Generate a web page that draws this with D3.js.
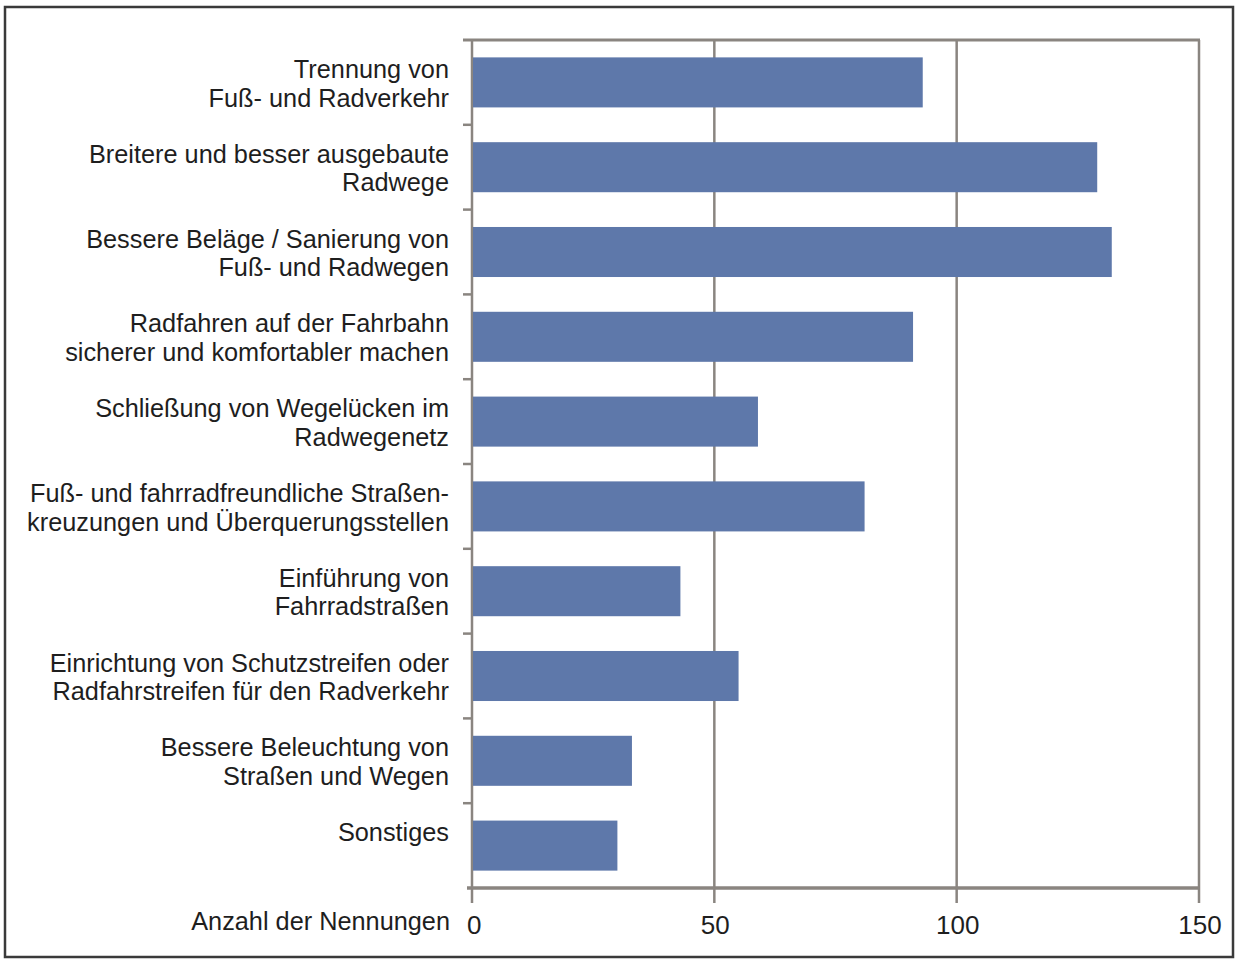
<!DOCTYPE html>
<html>
<head>
<meta charset="utf-8">
<script src="https://cdn.jsdelivr.net/npm/d3@7"></script>
<style>
  body { margin: 0; background: #fff; }
  svg { display: block; }
  .cat-label { font-family: "Liberation Sans", Arial, sans-serif; font-size: 25.3px; fill: #1e1e1e; }
  .tick-label { font-family: "Liberation Sans", Arial, sans-serif; font-size: 26px; fill: #1e1e1e; }
</style>
</head>
<body>
<div id="chart"></div>
<script>
// Kategorien (zweizeilige Beschriftungen)
const categories = [
    ["Trennung von", "Fuß- und Radverkehr"],
    ["Breitere und besser ausgebaute", "Radwege"],
    ["Bessere Beläge / Sanierung von", "Fuß- und Radwegen"],
    ["Radfahren auf der Fahrbahn", "sicherer und komfortabler machen"],
    ["Schließung von Wegelücken im", "Radwegenetz"],
    ["Fuß- und fahrradfreundliche Straßen-", "kreuzungen und Überquerungsstellen"],
    ["Einführung von", "Fahrradstraßen"],
    ["Einrichtung von Schutzstreifen oder", "Radfahrstreifen für den Radverkehr"],
    ["Bessere Beleuchtung von", "Straßen und Wegen"],
    ["Sonstiges"]
];
const values = [93, 129, 132, 91, 59, 81, 43, 55, 33, 30];
const xTicks = [0, 50, 100, 150];
const axisTitle = "Anzahl der Nennungen";

const width = 1235, height = 960;
const plot = { left: 472, right: 1199, top: 40, bottom: 888 };

const svg = d3.select('#chart').append('svg')
    .attr('width', width)
    .attr('height', height);

// outer frame
svg.append('rect')
    .attr('x', 5).attr('y', 7)
    .attr('width', 1228).attr('height', 950)
    .attr('fill', 'none')
    .attr('stroke', '#3a3a3a')
    .attr('stroke-width', 2.5);

const x = d3.scaleLinear().domain([0, 150]).range([plot.left, plot.right]);
const y = d3.scaleBand()
    .domain(d3.range(categories.length))
    .range([plot.top, plot.bottom])
    .paddingInner(0.41)
    .paddingOuter(0.205);

const gridColor = '#8a8580';

// vertical gridlines
svg.append('g')
    .selectAll('line')
    .data(xTicks.slice(1))
    .enter().append('line')
    .attr('x1', d => x(d)).attr('x2', d => x(d))
    .attr('y1', plot.top).attr('y2', plot.bottom + 15)
    .attr('stroke', gridColor)
    .attr('stroke-width', 2.5);

// top border line
svg.append('line')
    .attr('x1', plot.left - 9).attr('x2', plot.right + 1)
    .attr('y1', plot.top).attr('y2', plot.top)
    .attr('stroke', gridColor).attr('stroke-width', 3);

// left axis with category ticks
svg.append('line')
    .attr('x1', plot.left).attr('x2', plot.left)
    .attr('y1', plot.top).attr('y2', plot.bottom + 15)
    .attr('stroke', gridColor).attr('stroke-width', 2.5);

const step = y.step();
svg.append('g')
    .selectAll('line')
    .data(d3.range(1, categories.length))
    .enter().append('line')
    .attr('x1', plot.left - 9).attr('x2', plot.left)
    .attr('y1', d => plot.top + d * step)
    .attr('y2', d => plot.top + d * step)
    .attr('stroke', gridColor).attr('stroke-width', 2.5);

// bars
svg.append('g')
    .selectAll('rect')
    .data(values)
    .enter().append('rect')
    .attr('x', x(0) + 1)
    .attr('y', (d, i) => y(i))
    .attr('width', d => x(d) - x(0) - 1)
    .attr('height', y.bandwidth())
    .attr('fill', '#5e78aa');

// bottom axis line
svg.append('line')
    .attr('x1', plot.left - 5).attr('x2', plot.right + 1)
    .attr('y1', plot.bottom).attr('y2', plot.bottom)
    .attr('stroke', gridColor).attr('stroke-width', 3.5);

// category labels
const labels = svg.append('g')
    .selectAll('text')
    .data(categories)
    .enter().append('text')
    .attr('class', 'cat-label')
    .attr('text-anchor', 'end')
    .attr('x', 449)
    .attr('y', (d, i) => plot.top + i * step + 38);

labels.selectAll('tspan')
    .data(d => d)
    .enter().append('tspan')
    .attr('x', 449)
    .attr('dy', (d, i) => i === 0 ? 0 : 28.5)
    .text(d => d);

// x tick labels
svg.append('g')
    .selectAll('text')
    .data(xTicks)
    .enter().append('text')
    .attr('class', 'tick-label')
    .attr('x', d => x(d) + 1)
    .attr('y', 934)
    .attr('text-anchor', (d, i) => i === 0 ? 'start' : 'middle')
    .attr('dx', (d, i) => i === 0 ? -6 : 0)
    .text(d => d);

// axis title
svg.append('text')
    .attr('class', 'cat-label')
    .attr('text-anchor', 'end')
    .attr('x', 450)
    .attr('y', 930)
    .text(axisTitle);
</script>
</body>
</html>
